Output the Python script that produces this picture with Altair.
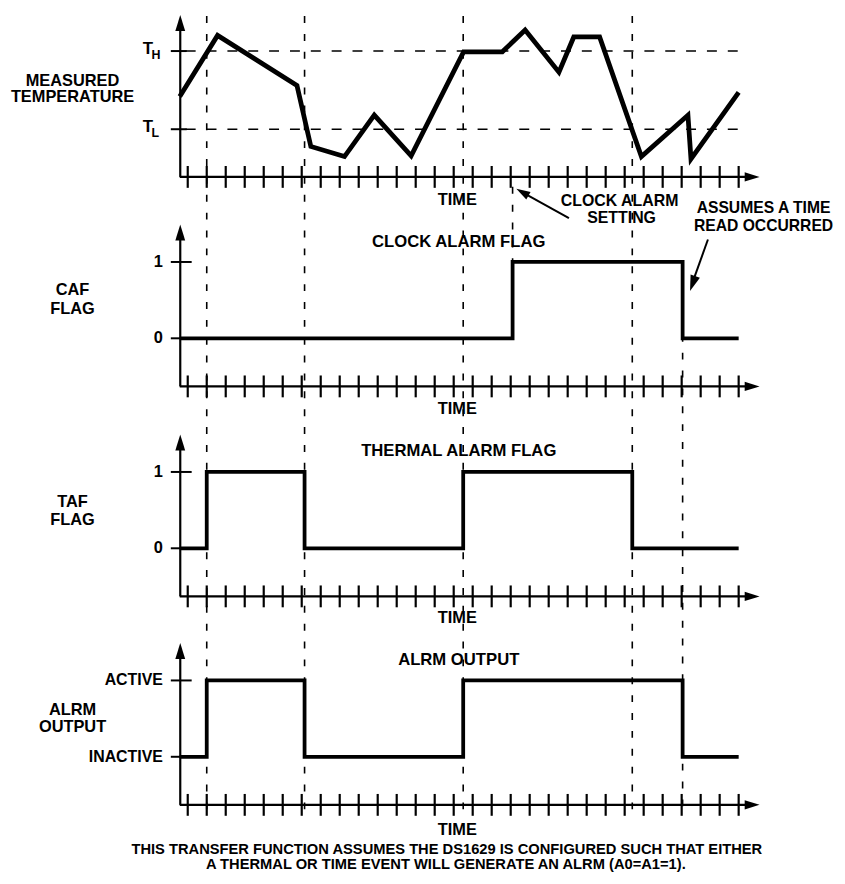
import altair as alt
import pandas as pd

FONT = "Liberation Sans"
INK = "#000000"

# ---------------- data ----------------
TICK_TIMES = list(range(30))                 # time ticks on every axis
THERMAL_EVENT_TIMES = [1.0, 6.15, 14.5, 23.4]  # dashed guide lines (full height)
CLOCK_ALARM_TIME = [17.1]
TIME_READ_TIME = [26.05]

TEMP_TIME = [-0.42, 1.57, 5.75, 6.48, 8.25, 9.82, 11.76, 14.52, 16.56,
             17.76, 19.54, 20.32, 21.68, 23.88, 26.33, 26.49, 29.0]
TEMP_VALUE = [24.2, 32.0, 25.6, 17.8, 16.5, 21.8, 16.6, 29.9, 29.9,
              32.7, 27.3, 31.8, 31.8, 16.5, 21.8, 16.2, 24.7]
THRESHOLD_SUB = ["H", "L"]
THRESHOLD_VALUE = [30, 20]

CAF_TIME = [-0.42, 17.1, 26.05, 29.0]
CAF_VALUE = [0, 1, 0, 0]
TAF_TIME = [-0.42, 1.0, 6.15, 14.5, 23.4, 29.0]
TAF_VALUE = [0, 1, 0, 1, 0, 0]
ALRM_TIME = [-0.42, 1.0, 6.15, 14.5, 26.05, 29.0]
ALRM_VALUE = [0, 1, 0, 1, 0, 0]

FLAG_LEVELS = [0, 1]
FLAG_LABELS = ["0", "1"]
ALRM_LABELS = ["INACTIVE", "ACTIVE"]

PANEL_TITLES = ["CLOCK ALARM FLAG", "THERMAL ALARM FLAG", "ALRM OUTPUT"]
SIDE_LABELS = [["MEASURED", "TEMPERATURE"], ["CAF", "FLAG"], ["TAF", "FLAG"], ["ALRM", "OUTPUT"]]
AXIS_LABEL = "TIME"
CLOCK_NOTE = ["CLOCK ALARM", "SETTING"]
READ_NOTE = ["ASSUMES A TIME", "READ OCCURRED"]
FOOTNOTE = ["THIS TRANSFER FUNCTION ASSUMES THE DS1629 IS CONFIGURED SUCH THAT EITHER",
            "A THERMAL OR TIME EVENT WILL GENERATE AN ALRM (A0=A1=1)."]

# ---------------- layout ----------------
X_DOMAIN = [-0.42, 30.1]
TEMP_DOMAIN = [13.9, 34.6]
FLAG_DOMAIN = [-0.63, 1.49]
W, H = 584, 796
OX, OY = 181, 12            # page position of plot origin
AXIS_Y = [163, 374, 585.5, 795.5]
PANEL_H = 163
ARROW = "M0,-1L0.62,1L-0.62,1Z"


def gx(px):
    return px - OX


def gy(py):
    return py - OY


XS = alt.Scale(domain=X_DOMAIN, nice=False, zero=False)


def ysc(domain, i):
    return alt.Scale(domain=domain, range=[AXIS_Y[i], AXIS_Y[i] - PANEL_H], nice=False, zero=False)


def one():
    return pd.DataFrame({"k": [0]})


def text_layer(label, px, py, size=16.5, align="center"):
    return alt.Chart(pd.DataFrame({"label": [label]})).mark_text(
        font=FONT, fontWeight="bold", fontSize=size, align=align, baseline="middle", color=INK
    ).encode(text="label:N", x=alt.value(gx(px)), y=alt.value(gy(py)))


def head(px, py, size, angle):
    return alt.Chart(one()).mark_point(
        shape=ARROW, size=size, filled=True, opacity=1, color=INK, strokeWidth=0, angle=angle
    ).encode(x=alt.value(gx(px)), y=alt.value(gy(py)))


layers = []

# dashed guide lines
layers.append(alt.Chart(pd.DataFrame({"t": THERMAL_EVENT_TIMES})).mark_rule(
    color=INK, strokeWidth=1.6, strokeDash=[7, 11]).encode(
    x=alt.X("t:Q", scale=XS, axis=None), y=alt.value(gy(13)), y2=alt.value(gy(815))))
layers.append(alt.Chart(pd.DataFrame({"t": CLOCK_ALARM_TIME})).mark_rule(
    color=INK, strokeWidth=1.6, strokeDash=[7, 11]).encode(
    x=alt.X("t:Q", scale=XS, axis=None), y=alt.value(gy(185)), y2=alt.value(gy(262))))
layers.append(alt.Chart(pd.DataFrame({"t": TIME_READ_TIME})).mark_rule(
    color=INK, strokeWidth=1.6, strokeDash=[7, 11]).encode(
    x=alt.X("t:Q", scale=XS, axis=None), y=alt.value(gy(262)), y2=alt.value(gy(815))))

# threshold dashed lines
layers.append(alt.Chart(pd.DataFrame({"v": THRESHOLD_VALUE})).mark_rule(
    color=INK, strokeWidth=1.6, strokeDash=[10, 11]).encode(
    y=alt.Y("v:Q", scale=ysc(TEMP_DOMAIN, 0), axis=None),
    x=alt.value(gx(187)), x2=alt.value(gx(744))))

# axes, ticks, arrowheads
for i, ay in enumerate(AXIS_Y):
    top = ay - PANEL_H
    layers.append(alt.Chart(one()).mark_rule(color=INK, strokeWidth=2.2).encode(
        x=alt.value(0.5), y=alt.value(top + 12), y2=alt.value(ay)))
    layers.append(alt.Chart(one()).mark_rule(color=INK, strokeWidth=2.2).encode(
        x=alt.value(0), x2=alt.value(572), y=alt.value(ay)))
    layers.append(alt.Chart(pd.DataFrame({"t": TICK_TIMES})).mark_rule(color=INK, strokeWidth=2.2).encode(
        x=alt.X("t:Q", scale=XS, axis=None), y=alt.value(ay - 11), y2=alt.value(ay + 11)))
    layers.append(head(OX + 0.5, OY + top + 8, 256, 0))
    layers.append(head(OX + 576.5, OY + ay, 225, 90))

# level ticks and labels
layers.append(alt.Chart(pd.DataFrame({"v": THRESHOLD_VALUE})).mark_rule(color=INK, strokeWidth=2).encode(
    y=alt.Y("v:Q", scale=ysc(TEMP_DOMAIN, 0), axis=None), x=alt.value(gx(172)), x2=alt.value(gx(188))))
layers.append(alt.Chart(pd.DataFrame({"v": THRESHOLD_VALUE, "s": ["T", "T"]})).mark_text(
    font=FONT, fontWeight="bold", fontSize=17, align="right", baseline="middle", color=INK, dy=-2).encode(
    y=alt.Y("v:Q", scale=ysc(TEMP_DOMAIN, 0), axis=None), x=alt.value(gx(154)), text="s:N"))
layers.append(alt.Chart(pd.DataFrame({"v": THRESHOLD_VALUE, "s": THRESHOLD_SUB})).mark_text(
    font=FONT, fontWeight="bold", fontSize=12.5, align="left", baseline="middle", color=INK, dy=4).encode(
    y=alt.Y("v:Q", scale=ysc(TEMP_DOMAIN, 0), axis=None), x=alt.value(gx(152.5)), text="s:N"))

for i, labels in [(1, FLAG_LABELS), (2, FLAG_LABELS), (3, ALRM_LABELS)]:
    df = pd.DataFrame({"v": FLAG_LEVELS, "label": labels})
    layers.append(alt.Chart(df).mark_rule(color=INK, strokeWidth=2).encode(
        y=alt.Y("v:Q", scale=ysc(FLAG_DOMAIN, i), axis=None), x=alt.value(gx(172)), x2=alt.value(gx(193))))
    layers.append(alt.Chart(df).mark_text(
        font=FONT, fontWeight="bold", fontSize=16.5 if i < 3 else 16, align="right", baseline="middle",
        color=INK).encode(
        y=alt.Y("v:Q", scale=ysc(FLAG_DOMAIN, i), axis=None), x=alt.value(gx(164)), text="label:N"))

# data lines
layers.append(alt.Chart(pd.DataFrame({"t": TEMP_TIME, "v": TEMP_VALUE})).mark_line(
    color=INK, strokeWidth=4.8).encode(
    x=alt.X("t:Q", scale=XS, axis=None), y=alt.Y("v:Q", scale=ysc(TEMP_DOMAIN, 0), axis=None)))
for i, (tt, vv) in [(1, (CAF_TIME, CAF_VALUE)), (2, (TAF_TIME, TAF_VALUE)), (3, (ALRM_TIME, ALRM_VALUE))]:
    layers.append(alt.Chart(pd.DataFrame({"t": tt, "v": vv})).mark_line(
        color=INK, strokeWidth=3.8, interpolate="step-after").encode(
        x=alt.X("t:Q", scale=XS, axis=None), y=alt.Y("v:Q", scale=ysc(FLAG_DOMAIN, i), axis=None)))

# texts
for (a, b), (y1, y2) in zip(SIDE_LABELS, [(78, 95), (289, 308), (502, 520.5), (712, 729)]):
    layers.append(text_layer(a, 73, y1))
    layers.append(text_layer(b, 73, y2))
for lab, yy in zip(PANEL_TITLES, [241, 451, 662]):
    layers.append(text_layer(lab, 462, yy, 16.8))
for yy in [198.5, 409, 619.5, 833]:
    layers.append(text_layer(AXIS_LABEL, 460.5, yy))
layers.append(text_layer(CLOCK_NOTE[0], 624, 199, 16))
layers.append(text_layer(CLOCK_NOTE[1], 626, 216.5, 16))
layers.append(text_layer(READ_NOTE[0], 769, 206, 15.8))
layers.append(text_layer(READ_NOTE[1], 769, 224.5, 15.8))
layers.append(text_layer(FOOTNOTE[0], 450, 853, 14.8))
layers.append(text_layer(FOOTNOTE[1], 449, 868, 14.8))

# annotation arrows
layers.append(alt.Chart(one()).mark_rule(color=INK, strokeWidth=2).encode(
    x=alt.value(gx(573)), y=alt.value(gy(216.5)), x2=alt.value(gx(528)), y2=alt.value(gy(191.5))))
layers.append(head(526.1, 190.5, 196, 299.6))
layers.append(alt.Chart(one()).mark_rule(color=INK, strokeWidth=2).encode(
    x=alt.value(gx(713)), y=alt.value(gy(238)), x2=alt.value(gx(698)), y2=alt.value(gy(280))))
layers.append(head(697.6, 282.4, 256, 199.1))

chart = alt.layer(*layers).resolve_scale(y="independent").properties(
    width=W, height=H,
    padding={"left": OX - 8, "top": OY - 8, "right": 78, "bottom": 67},
    autosize=alt.AutoSizeParams(type="none"),
    background="white",
).configure_view(stroke=None)

chart.save("out.html", embed_options={"renderer": "svg", "actions": False})
